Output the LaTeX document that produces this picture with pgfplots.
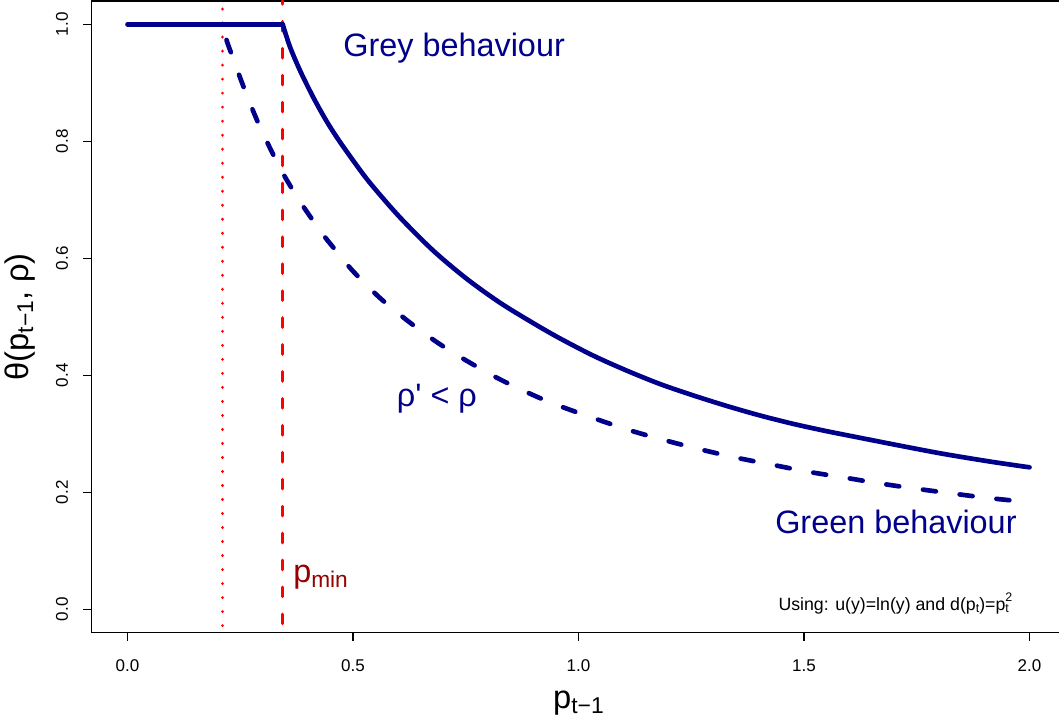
\documentclass[border=0pt]{standalone}
\usepackage{pgfplots}
\pgfplotsset{compat=1.18}
\usepackage{graphicx}
\usepackage{fontspec}
\setmainfont{Liberation Sans}
\newfontfamily\nolig{Liberation Sans}[Ligatures=TeXOff]
\definecolor{nav}{RGB}{0,0,139}
\definecolor{dred}{RGB}{150,0,0}
\definecolor{rred}{RGB}{255,0,0}
\newcommand{\lo}[1]{\raisebox{-0.15em}{\scalebox{0.7}{#1}}}
\begin{document}
\begin{tikzpicture}
\begin{axis}[
  at={(68.565pt,66.225pt)}, anchor=south west,
  scale only axis, width=730.62pt, height=473.85pt,
  xmin=-0.08, xmax=2.08, ymin=-0.04, ymax=1.04,
  clip=false,
  axis line style={line width=1.1pt},
  tick pos=left, tick align=outside, major tick length=6pt,
  every tick/.style={black, line width=1.1pt},
  xtick={0,0.5,1,1.5,2}, ytick={0,0.2,0.4,0.6,0.8,1},
  ticklabel style={font=\fontsize{12.75}{14}\selectfont, inner sep=0pt,
    /pgf/number format/fixed, /pgf/number format/fixed zerofill,
    /pgf/number format/precision=1, /pgf/number format/assume math mode=true},
  xticklabel style={anchor=north},
  yticklabel style={rotate=90, anchor=south},
  xticklabel shift=14pt,
  yticklabel shift=11.3pt,
  every axis x label/.style={at={(axis description cs:0.5,-0.11966)}, anchor=base, font=\fontsize{24.5}{30}\selectfont},
  every axis y label/.style={at={(axis description cs:-0.06478,0.5)}, rotate=90, anchor=base, font=\fontsize{24.5}{30}\selectfont},
  xlabel={p\lo{t−1}},
  ylabel={θ(p\lo{t−1}, ρ)},
]
% vertical reference lines
\addplot[rred, line width=2.4pt, line cap=round, dash pattern=on 7.1pt off 13.1pt, dash phase=4.7pt] coordinates {(0.3441,1.04) (0.3441,-0.04)};
\addplot[rred, line width=2.4pt, line cap=round, dash pattern=on 0.01pt off 10.5pt, dash phase=4.4pt] coordinates {(0.2103,1.04) (0.2103,-0.04)};
% Green behaviour (rho' < rho), dashed
\addplot[nav, line width=3.5pt, line cap=round, smooth, tension=0.5, dash pattern=on 9.75pt off 18pt, dash phase=71.1pt] coordinates {
(0.2103,1.0) (0.220,0.972) (0.235,0.940) (0.250,0.908) (0.270,0.868) (0.290,0.831)
(0.310,0.798) (0.330,0.7665) (0.350,0.738) (0.375,0.706) (0.400,0.677) (0.430,0.644)
(0.460,0.615) (0.500,0.578) (0.560,0.532) (0.623,0.492) (0.689,0.455) (0.756,0.423)
(0.826,0.393) (0.900,0.366) (0.955,0.3484) (1.040,0.325) (1.118,0.305) (1.196,0.288)
(1.273,0.2728) (1.351,0.259) (1.430,0.247) (1.510,0.235) (1.591,0.225) (1.669,0.215)
(1.750,0.206) (1.831,0.1977) (1.912,0.190) (2.000,0.183)};
% Grey behaviour, solid
\addplot[nav, line width=3.5pt, line cap=round] coordinates {(0,1) (0.3441,1)};
\addplot[nav, line width=3.5pt, line cap=round, smooth, tension=0.5] coordinates {
(0.3441,1.0) (0.360,0.962) (0.3825,0.921) (0.412,0.875) (0.4417,0.834) (0.471,0.799)
(0.5155,0.751) (0.545,0.722) (0.604,0.670) (0.678,0.613) (0.752,0.565) (0.826,0.524)
(0.900,0.489) (0.959,0.463) (1.033,0.4335) (1.107,0.408) (1.181,0.385) (1.2545,0.3656)
(1.3286,0.3476) (1.4024,0.3313) (1.476,0.317) (1.550,0.3045) (1.624,0.2932) (1.691,0.283)
(1.8015,0.2667) (1.912,0.2526) (2.000,0.2427)};
% annotations
\node[nav, anchor=base west, inner sep=0pt, font=\fontsize{24.3}{29}\selectfont] at (axis cs:0.478,0.9447) {Grey behaviour};
\node[nav, anchor=base east, inner sep=0pt, font=\fontsize{24.3}{29}\selectfont] at (axis cs:1.972,0.1304) {Green behaviour};
\node[nav, anchor=base west, inner sep=0pt, font=\fontsize{24.3}{29}\selectfont\nolig] at (axis cs:0.5968,0.3467) {ρ' < ρ};
\node[dred, anchor=base west, inner sep=0pt, font=\fontsize{24.3}{29}\selectfont] at (axis cs:0.367,0.045) {p\lo{min}};
\node[black, anchor=base west, inner sep=0pt, font=\fontsize{13.3}{16}\selectfont] at (axis cs:1.4429,-0.0012) {Using: u(y)=ln(y) and d(p\lo{t})=p\rlap{\raisebox{0.5em}{\scalebox{0.7}{2}}}\lo{t}};
\end{axis}
\pgfresetboundingbox
\path[use as bounding box] (0,0) rectangle (794.25pt,540.75pt);
\end{tikzpicture}
\end{document}
